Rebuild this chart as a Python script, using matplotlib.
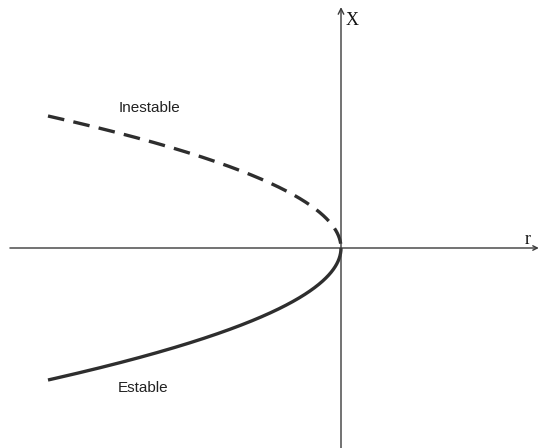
import numpy as np
import matplotlib
matplotlib.use("Agg")
import matplotlib.pyplot as plt

# Data: saddle-node bifurcation branches x = ±sqrt(-r)
branch_amplitude = np.linspace(0.0, 2.0, 400)
r_values = -branch_amplitude ** 2
unstable_x = branch_amplitude
stable_x = -branch_amplitude
labels = ["Inestable", "Estable"]
axis_labels = ["r", "X"]

fig = plt.figure(figsize=(5.39, 4.48), dpi=100)
ax = fig.add_axes([0, 0, 1, 1])
ax.set_xlim(-341 / 73.25, (539 - 341) / 73.25)
ax.set_ylim(-(448 - 248) / 66.0, 248 / 66.0)
ax.axis("off")

axc = "#3a3a3a"
ax.annotate("", xy=(2.70, 0), xytext=(-4.52, 0),
            arrowprops=dict(arrowstyle="->", color=axc, lw=1.0,
                            shrinkA=0, shrinkB=0, mutation_scale=8))
ax.annotate("", xy=(0, 3.65), xytext=(0, -3.03),
            arrowprops=dict(arrowstyle="->", color=axc, lw=1.0,
                            shrinkA=0, shrinkB=0, mutation_scale=10))

curve_c = "#2e2e2e"
ax.plot(r_values[::-1], unstable_x[::-1], color=curve_c, lw=2.4, ls=(0, (5, 2.8)),
        dash_capstyle="butt")
ax.plot(r_values, stable_x, color=curve_c, lw=2.4, solid_capstyle="butt")

ax.text((528 - 341) / 73.25, (248 - 239) / 66.0, axis_labels[0],
        family="Liberation Serif", fontsize=13, ha="center", va="center", color="#111")
ax.text((352 - 341) / 73.25, (248 - 21) / 66.0, axis_labels[1],
        family="Liberation Serif", fontsize=13, ha="center", va="center", color="#111")

ax.text((149 - 341) / 73.25, (248 - 108) / 66.0, labels[0],
        family="Liberation Sans", fontsize=11, ha="center", va="center", color="#222")
ax.text((143.5 - 341) / 73.25, (248 - 388) / 66.0, labels[1],
        family="Liberation Sans", fontsize=11, ha="center", va="center", color="#222")

fig.savefig("out.png", dpi=100)
